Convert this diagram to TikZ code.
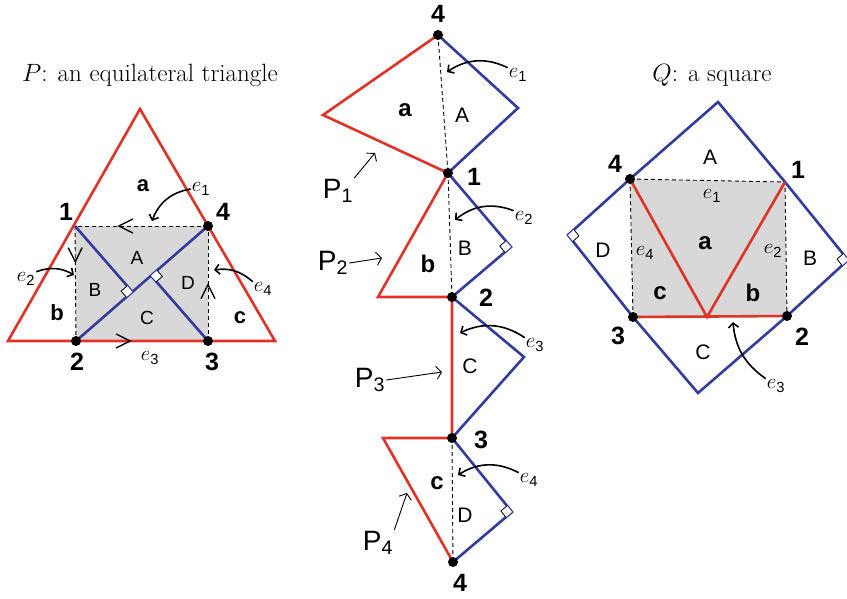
\documentclass[tikz,border=0pt]{standalone}
\usepackage{fix-cm}
\usepackage{amsmath,amssymb}
\usepackage{fontspec}
\setsansfont{Liberation Sans}
\usetikzlibrary{arrows.meta,calc,angles,decorations.markings}
\definecolor{cutred}{RGB}{224,50,38}
\definecolor{cutblue}{RGB}{50,60,158}
\definecolor{tilegrey}{RGB}{216,216,216}

\begin{document}
\begin{tikzpicture}[x=1pt,y=-1pt]
\tikzset{
  redpiece/.style={draw=cutred,line width=2.6pt,line join=miter},
  bluepiece/.style={draw=cutblue,line width=2.6pt,line join=miter},
  foldline/.style={draw=black,line width=0.9pt,dash pattern=on 4pt off 3pt},
  vertexdot/.style={circle,fill=black,inner sep=0pt,minimum size=10pt},
  vertexlabel/.style={font=\fontsize{25}{28}\sffamily\bfseries,inner sep=1pt},
  piecelabel/.style={font=\fontsize{21}{24}\sffamily,inner sep=1pt},
  smallpiece/.style={font=\fontsize{24}{28}\sffamily\bfseries,inner sep=1pt},
  edgelabel/.style={font=\fontsize{21}{25}\selectfont,inner sep=1pt},
  partlabel/.style={font=\fontsize{28}{30}\sffamily,inner sep=1pt},
  titlelabel/.style={font=\fontsize{25}{29}\selectfont},
  edgearrow/.style={-{Straight Barb[length=4.5pt,width=10pt]},line width=1.6pt},
  partarrow/.style={-{Straight Barb[length=5pt,width=13pt]},line width=0.9pt},
  rightmark/.style={draw,fill=white,line width=0.8pt,angle radius=8pt},
  chevron/.style={postaction={decorate,decoration={markings,
    mark=at position #1 with {\draw[line width=1.4pt,solid] (-14pt,-7pt) -- (0pt,0pt) -- (-14pt,7pt);}}}}
}
\useasboundingbox (0,0) rectangle (847,598);

\coordinate (l_top) at (140,109);
\coordinate (l_bl) at (8,341);
\coordinate (l_br) at (275,341);
\coordinate (l_1) at (75,226);
\coordinate (l_4) at (208,226);
\coordinate (l_2) at (76,341);
\coordinate (l_3) at (208,341);
\coordinate (l_f1) at ($(l_2)!(l_1)!(l_4)$);
\coordinate (l_f2) at ($(l_2)!(l_3)!(l_4)$);
\coordinate (l_e1tip) at (152,221);
\coordinate (l_e2tip) at (74,275);
\coordinate (l_e4tip) at (214,270);
\fill[tilegrey] (l_1) -- (l_4) -- (l_3) -- (l_2) -- cycle;
\draw[foldline,chevron=0.67] (l_4) -- (l_1);
\draw[foldline,chevron=0.31] (l_1) -- (l_2);
\draw[foldline,chevron=0.49] (l_3) -- (l_4);
\draw[bluepiece] (l_2) -- (l_4);
\draw[bluepiece] (l_1) -- (l_f1);
\draw[bluepiece] (l_f2) -- (l_3);
\pic[rightmark] {right angle=l_1--l_f1--l_2};
\pic[rightmark] {right angle=l_3--l_f2--l_4};
\draw[redpiece] (l_top) -- (l_br) -- (l_bl) -- cycle;
\path[chevron=0.41] (l_2) -- (l_3);
\node[vertexdot] (n_l4) at (l_4) {};
\node[vertexdot] (n_l2) at (l_2) {};
\node[vertexdot] (n_l3) at (l_3) {};
\node[titlelabel] (n_titleP) at (150,75) {$P$: an equilateral triangle};
\node[vertexlabel] (n_l1txt) at (66,212) {1};
\node[vertexlabel] (n_l4txt) at (223,212) {4};
\node[vertexlabel] (n_l2txt) at (77,362) {2};
\node[vertexlabel] (n_l3txt) at (212,362) {3};
\node[smallpiece,font=\fontsize{22}{26}\sffamily\bfseries] (n_la) at (143,186) {a};
\node[piecelabel,font=\fontsize{19}{22}\sffamily] (n_lA) at (137,258) {A};
\node[piecelabel,font=\fontsize{19}{22}\sffamily] (n_lB) at (95,290) {B};
\node[piecelabel,font=\fontsize{19}{22}\sffamily] (n_lD) at (188,283) {D};
\node[smallpiece,font=\fontsize{22}{26}\sffamily\bfseries] (n_lb) at (57,313) {b};
\node[piecelabel,font=\fontsize{19}{22}\sffamily] (n_lC) at (147,318) {C};
\node[smallpiece,font=\fontsize{22}{26}\sffamily\bfseries] (n_lc) at (240,318) {c};
\node[edgelabel] (n_le1) at (201,189) {$e_{\textsf{1}}$};
\node[edgelabel] (n_le2) at (26,279) {$e_{\textsf{2}}$};
\node[edgelabel] (n_le3) at (150,358) {$e_{\textsf{3}}$};
\node[edgelabel] (n_le4) at (263,289) {$e_{\textsf{4}}$};
\draw[edgearrow] (n_le1.west) to[bend right=30] (l_e1tip);
\draw[edgearrow] (n_le2.north east) to[bend left=25] (l_e2tip);
\draw[edgearrow] (n_le4.north west) to[bend right=25] (l_e4tip);

\coordinate (m_4t) at (438,35);
\coordinate (m_a) at (323,115);
\coordinate (m_1) at (448,173);
\coordinate (m_A) at (518,108);
\coordinate (m_b) at (378,297);
\coordinate (m_2) at (452,297);
\coordinate (m_B) at (511,247);
\coordinate (m_3) at (452,438);
\coordinate (m_C) at (524,357);
\coordinate (m_c) at (383,438);
\coordinate (m_4b) at (453,562);
\coordinate (m_D) at (512,512);
\coordinate (m_e1tip) at (447,72);
\coordinate (m_e2tip) at (455,220);
\coordinate (m_e3tip) at (460,333);
\coordinate (m_e4tip) at (458,475);
\coordinate (m_p1tip) at (375,153);
\coordinate (m_p2tip) at (382,258);
\coordinate (m_p3tip) at (442,372);
\coordinate (m_p4tip) at (407,493);
\draw[foldline] (m_4t) -- (m_1);
\draw[foldline] (m_1) -- (m_2);
\draw[foldline] (m_3) -- (m_4b);
\draw[bluepiece] (m_4t) -- (m_A) -- (m_1) -- (m_B) -- (m_2) -- (m_C) -- (m_3) -- (m_D) -- (m_4b);
\pic[rightmark] {right angle=m_2--m_B--m_1};
\pic[rightmark] {right angle=m_4b--m_D--m_3};
\draw[redpiece] (m_4t) -- (m_a) -- (m_1) -- (m_b) -- (m_2) -- (m_3) -- (m_c) -- (m_4b);
\node[vertexdot] (n_m4t) at (m_4t) {};
\node[vertexdot] (n_m1) at (m_1) {};
\node[vertexdot] (n_m2) at (m_2) {};
\node[vertexdot] (n_m3) at (m_3) {};
\node[vertexdot] (n_m4b) at (m_4b) {};
\node[vertexlabel] (n_m4ttxt) at (438,14) {4};
\node[vertexlabel] (n_m1txt) at (474,177) {1};
\node[vertexlabel] (n_m2txt) at (486,298) {2};
\node[vertexlabel] (n_m3txt) at (481,440) {3};
\node[vertexlabel] (n_m4btxt) at (460,583) {4};
\node[smallpiece] (n_ma) at (405,110) {a};
\node[piecelabel] (n_mA) at (462,115) {A};
\node[smallpiece] (n_mb) at (428,264) {b};
\node[piecelabel] (n_mB) at (465,248) {B};
\node[piecelabel] (n_mC) at (470,366) {C};
\node[smallpiece] (n_mc) at (437,483) {c};
\node[piecelabel] (n_mD) at (465,515) {D};
\node[edgelabel] (n_me1) at (518,75) {$e_{\textsf{1}}$};
\node[edgelabel] (n_me2) at (524,218) {$e_{\textsf{2}}$};
\node[edgelabel] (n_me3) at (535,345) {$e_{\textsf{3}}$};
\node[edgelabel] (n_me4) at (529,480) {$e_{\textsf{4}}$};
\draw[edgearrow] (n_me1.north west) to[bend right=30] (m_e1tip);
\draw[edgearrow] (n_me2.north west) to[bend right=30] (m_e2tip);
\draw[edgearrow] (n_me3.north west) to[bend right=30] (m_e3tip);
\draw[edgearrow] (n_me4.north west) to[bend right=30] (m_e4tip);
\node[partlabel] (n_p1) at (338,191) {P$_{\textsf{1}}$};
\node[partlabel] (n_p2) at (333,263) {P$_{\textsf{2}}$};
\node[partlabel] (n_p3) at (370,380) {P$_{\textsf{3}}$};
\node[partlabel] (n_p4) at (378,543) {P$_{\textsf{4}}$};
\draw[partarrow] (n_p1.north east) -- (m_p1tip);
\draw[partarrow] (n_p2.east) -- (m_p2tip);
\draw[partarrow] (n_p3.east) -- (m_p3tip);
\draw[partarrow] (n_p4.north east) -- (m_p4tip);

\coordinate (q_4) at (630,179);
\coordinate (q_1) at (785,182);
\coordinate (q_2) at (787,316);
\coordinate (q_3) at (633,317);
\coordinate (q_T) at (718,102);
\coordinate (q_R) at (848,260);
\coordinate (q_B) at (698,393);
\coordinate (q_L) at (568,235);
\coordinate (q_m) at (707,317);
\coordinate (q_e3tip) at (733,322);
\fill[tilegrey] (q_4) -- (q_1) -- (q_2) -- (q_3) -- cycle;
\draw[foldline] (q_4) -- (q_1) -- (q_2);
\draw[foldline] (q_3) -- (q_4);
\draw[bluepiece] (q_L) -- (q_4) -- (q_T) -- (q_1) -- (q_R) -- (q_2) -- (q_B) -- (q_3) -- cycle;
\pic[rightmark] {right angle=q_4--q_L--q_3};
\pic[rightmark] {right angle=q_1--q_R--q_2};
\draw[redpiece] (q_3) -- (q_2);
\draw[redpiece] (q_4) -- (q_m) -- (q_1);
\node[vertexdot] (n_q4) at (q_4) {};
\node[vertexdot] (n_q3) at (q_3) {};
\node[vertexdot] (n_q2) at (q_2) {};
\node[titlelabel] (n_titleQ) at (712,75) {$Q$: a square};
\node[vertexlabel] (n_q4txt) at (615,164) {4};
\node[vertexlabel] (n_q1txt) at (798,170) {1};
\node[vertexlabel] (n_q3txt) at (618,336) {3};
\node[vertexlabel] (n_q2txt) at (802,337) {2};
\node[piecelabel] (n_qA) at (710,157) {A};
\node[smallpiece] (n_qa) at (705,243) {a};
\node[piecelabel] (n_qD) at (603,250) {D};
\node[piecelabel] (n_qB) at (810,258) {B};
\node[smallpiece] (n_qc) at (660,293) {c};
\node[smallpiece] (n_qb) at (753,293) {b};
\node[piecelabel] (n_qC) at (703,352) {C};
\node[edgelabel] (n_qe1) at (712,196) {$e_{\textsf{1}}$};
\node[edgelabel] (n_qe4) at (645,253) {$e_{\textsf{4}}$};
\node[edgelabel] (n_qe2) at (773,251) {$e_{\textsf{2}}$};
\node[edgelabel] (n_qe3) at (776,386) {$e_{\textsf{3}}$};
\draw[edgearrow] (n_qe3.north west) to[bend left=25] (q_e3tip);
\end{tikzpicture}
\end{document}
